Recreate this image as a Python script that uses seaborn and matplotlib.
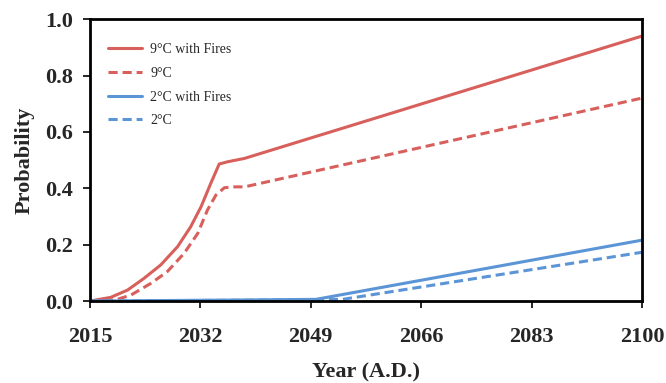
import numpy as np
import pandas as pd
import matplotlib
matplotlib.use('Agg')
import matplotlib.pyplot as plt
import seaborn as sns

sns.set_style('white')
plt.rcParams['font.family'] = ['Liberation Serif', 'DejaVu Serif']

# values
year_9f = [2015, 2018.2, 2020.8, 2023.3, 2025.9, 2028.5, 2030.5, 2032.1, 2033.6, 2034.9,
           2036.2, 2038.8, 2100]
p_9f = [0.0, 0.013, 0.039, 0.080, 0.128, 0.193, 0.263, 0.334, 0.417, 0.486,
        0.494, 0.506, 0.94]
year_9 = [2015, 2017, 2019.2, 2021.3, 2024.4, 2026.9, 2029.5, 2031.6, 2033.1, 2034.4,
          2035.7, 2037.2, 2038.8, 2100]
p_9 = [0.0, 0.0, 0.006, 0.021, 0.063, 0.104, 0.169, 0.240, 0.323, 0.376,
       0.402, 0.405, 0.405, 0.72]
year_2f = [2015, 2040, 2049.8, 2100]
p_2f = [0.0, 0.004, 0.006, 0.216]
year_2 = [2015, 2040, 2053.9, 2100]
p_2 = [0.0, 0.003, 0.006, 0.173]

red = '#d8605c'
blue = '#5b95d6'

fig = plt.figure(figsize=(6.66, 3.83), dpi=100)
ax = fig.add_axes([0.135, 0.214, 0.829, 0.736])

sns.lineplot(x=year_9f, y=p_9f, color=red, lw=2.2, ax=ax, label='9°C with Fires')
sns.lineplot(x=year_9, y=p_9, color=red, lw=2.2, ls=(0, (3, 1.6)), ax=ax, label='9°C')
sns.lineplot(x=year_2f, y=p_2f, color=blue, lw=2.2, ax=ax, label='2°C with Fires')
sns.lineplot(x=year_2, y=p_2, color=blue, lw=2.2, ls=(0, (3, 1.6)), ax=ax, label='2°C')

ax.set_xlim(2015, 2100)
ax.set_ylim(0, 1.0)
ax.set_xticks(np.arange(2015, 2101, 17))
ax.set_yticks([0.0, 0.2, 0.4, 0.6, 0.8, 1.0])
ax.set_yticklabels(['0.0', '0.2', '0.4', '0.6', '0.8', '1.0'])

for s in ax.spines.values():
    s.set_color('black')
    s.set_linewidth(2)
ax.tick_params(axis='both', direction='out', length=5, width=1.2, color='black',
               labelsize=16, bottom=True, left=True)
ax.tick_params(axis='x', pad=14)
ax.tick_params(axis='y', pad=7)
for lbl in ax.get_xticklabels() + ax.get_yticklabels():
    lbl.set_fontweight('bold')

ax.set_xlabel('Year (A.D.)', fontsize=16, fontweight='bold', labelpad=10.5)
ax.set_ylabel('Probability', fontsize=16, fontweight='bold', labelpad=8)

leg = ax.legend(loc='upper left', bbox_to_anchor=(0, 0.979), frameon=False, fontsize=10,
                handlelength=2.45, labelspacing=0.77, borderaxespad=0.9, handletextpad=0.6)

fig.savefig('out.png', dpi=100)
